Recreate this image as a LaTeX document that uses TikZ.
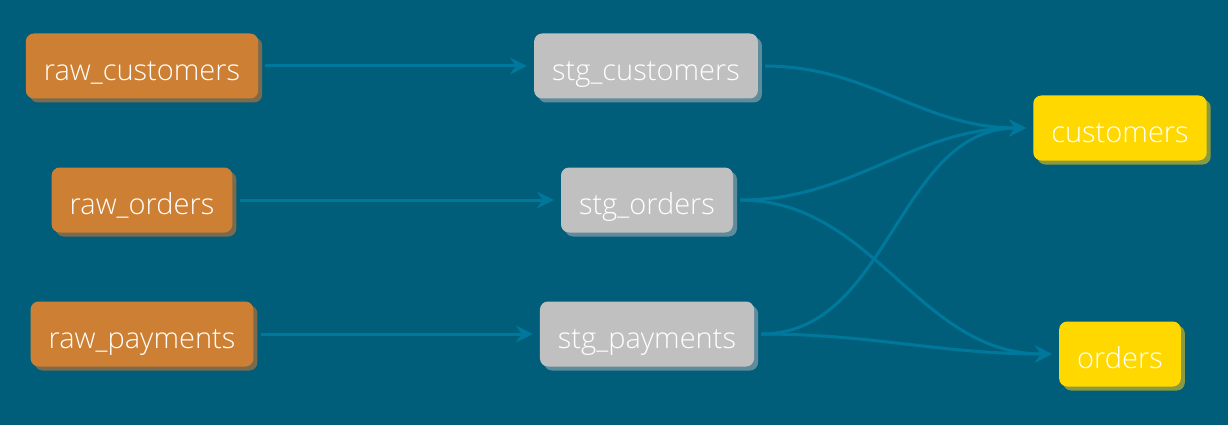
\documentclass[tikz,border=0pt]{standalone}
\usepackage{fontspec}
\setmainfont{Open Sans}[UprightFont=* Light]
\usepackage{xcolor}
\definecolor{dbtbg}{HTML}{005E7A}
\definecolor{dbtedge}{HTML}{00789B}
\definecolor{dbtraw}{HTML}{CD8033}
\definecolor{dbtrawsh}{HTML}{7A6B4F}
\definecolor{dbtstg}{HTML}{C0C0C0}
\definecolor{dbtstgsh}{HTML}{5E8C9C}
\definecolor{dbtmart}{HTML}{FFD800}
\definecolor{dbtmartsh}{HTML}{8A9A40}
\usetikzlibrary{arrows.meta,positioning,shadows}

\tikzset{
  model/.style={rounded corners=8pt,minimum height=65pt,inner xsep=18pt,
    text height=29pt,text depth=0pt,
    text=white,font=\fontsize{29}{32}\selectfont},
  rawbox/.style={model,fill=dbtraw,
    drop shadow={shadow xshift=4pt,shadow yshift=-4pt,opacity=1,fill=dbtrawsh}},
  stgbox/.style={model,fill=dbtstg,
    drop shadow={shadow xshift=4pt,shadow yshift=-4pt,opacity=1,fill=dbtstgsh}},
  martbox/.style={model,fill=dbtmart,
    drop shadow={shadow xshift=4pt,shadow yshift=-4pt,opacity=1,fill=dbtmartsh}},
  edge/.style={draw=dbtedge,line width=3pt,shorten <=7pt,shorten >=7pt,
    -{Stealth[length=17pt,width=17pt,inset=6pt]}},
}

\begin{document}
\begin{tikzpicture}[x=1pt,y=-1pt]
\useasboundingbox[fill=dbtbg] (0,0) rectangle (1228,425);

% sources
\node[rawbox] (rawcust) at (142,66) {raw\_customers};
\node[rawbox] (raword) at (142,200) {raw\_orders};
\node[rawbox] (rawpay) at (142,334) {raw\_payments};

% staging
\node[stgbox] (stgcust) at (646,66) {stg\_customers};
\node[stgbox] (stgord) at (647,200) {stg\_orders};
\node[stgbox] (stgpay) at (647,334) {stg\_payments};

% marts
\node[martbox] (cust) at (1120,128) {customers};
\node[martbox] (ord) at (1120,354) {orders};

\draw[edge] (rawcust) -- (stgcust);
\draw[edge] (raword) -- (stgord);
\draw[edge] (rawpay) -- (stgpay);

\draw[edge] (stgcust.east) to[out=0,in=180] (cust.west);
\draw[edge] (stgord.east) to[out=0,in=180] (cust.west);
\draw[edge] (stgpay.east) to[out=0,in=180] (cust.west);
\draw[edge] (stgord.east) to[out=0,in=180] (ord.west);
\draw[edge] (stgpay.east) to[out=0,in=180] (ord.west);
\end{tikzpicture}
\end{document}
